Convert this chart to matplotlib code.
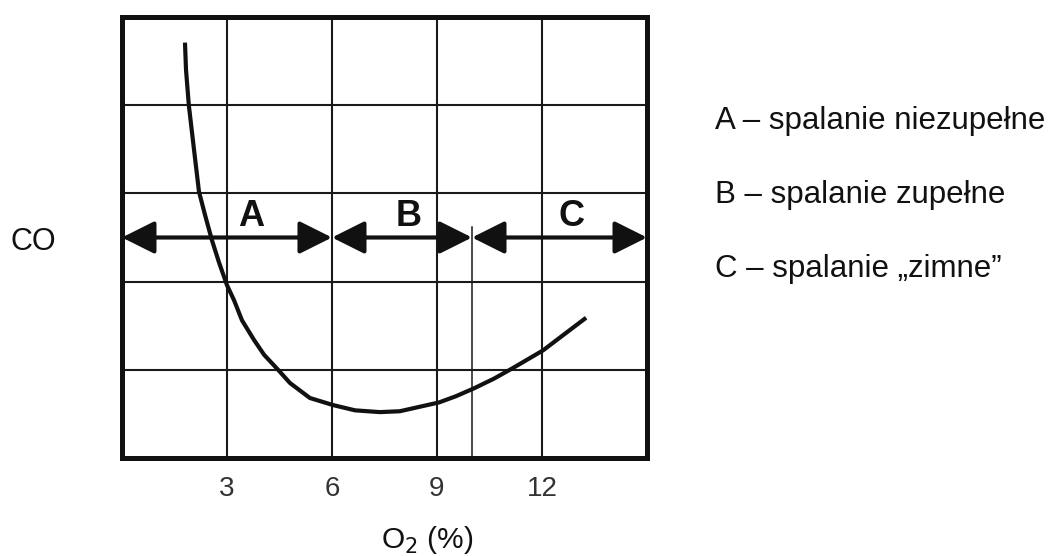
import matplotlib
matplotlib.use('Agg')
import matplotlib.pyplot as plt
from matplotlib.patches import ArrowStyle

plt.rcParams['font.family'] = ['Liberation Sans', 'DejaVu Sans']

# CO curve (x = O2 %, y = grid units, 0..5)
o2_curve = [1.80, 1.83, 1.91, 2.06, 2.20, 2.37, 2.57, 2.77, 3.00, 3.20, 3.43,
            3.77, 4.06, 4.46, 4.80, 5.37, 6.03, 6.66, 7.37, 7.94, 8.50, 9.06,
            9.54, 10.06, 10.63, 11.17, 11.60, 12.03, 12.66, 13.26]
co_curve = [4.71, 4.40, 4.00, 3.49, 3.02, 2.76, 2.47, 2.22, 1.96, 1.79, 1.56,
            1.34, 1.17, 1.00, 0.85, 0.68, 0.60, 0.54, 0.52, 0.53, 0.58, 0.63,
            0.70, 0.79, 0.90, 1.02, 1.12, 1.22, 1.41, 1.59]

x_ticks = [3, 6, 9, 12]
zone_edges = [0, 6, 10, 15]
zone_names = ['A', 'B', 'C']
zone_name_x = [3.7, 8.2, 12.85]
zone_y = 2.5
legend_lines = ['A \u2013 spalanie niezupełne',
                'B \u2013 spalanie zupełne',
                'C \u2013 spalanie \u201ezimne\u201d']

fig = plt.figure(figsize=(10.56, 5.56), dpi=100)
ax = fig.add_axes([0.1155, 0.1763, 0.4972, 0.7931])
ax.set_xlim(0, 15)
ax.set_ylim(0, 5)

# grid
for gx in [3, 6, 9, 12]:
    ax.axvline(gx, color='#1a1a1a', lw=1.5, zorder=1)
for gy in [1, 2, 3, 4]:
    ax.axhline(gy, color='#1a1a1a', lw=1.5, zorder=1)
# thin boundary between B and C
ax.plot([zone_edges[2], zone_edges[2]], [0, 2.62], color='#1a1a1a', lw=1.1, zorder=1)

for s in ax.spines.values():
    s.set_linewidth(3.6)
    s.set_color('#111111')

ax.plot(o2_curve, co_curve, color='#111111', lw=3.0, solid_capstyle='butt',
        solid_joinstyle='round', zorder=3)

style = ArrowStyle('<|-|>', head_length=1.0, head_width=0.5)
for i in range(3):
    ax.annotate('', xy=(zone_edges[i + 1], zone_y), xytext=(zone_edges[i], zone_y),
                arrowprops=dict(arrowstyle=style, color='#111111', lw=3.0,
                                shrinkA=0, shrinkB=0, mutation_scale=20), zorder=4)
    ax.text(zone_name_x[i], 2.74, zone_names[i], fontsize=26, fontweight='bold',
            ha='center', va='center', color='#111111', zorder=4)

ax.set_xticks(x_ticks)
ax.set_xticklabels([str(t) for t in x_ticks])
ax.set_yticks([])
ax.tick_params(axis='x', length=0, pad=13, labelsize=20, labelcolor='#333333')

fig.text(427 / 1056, 1 - 540 / 556, 'O$_2$ (%)', fontsize=21.5, ha='center', va='center',
         color='#111111')
fig.text(33 / 1056, 1 - 242 / 556, 'CO', fontsize=22, ha='center', va='center',
         color='#111111')

for i, line in enumerate(legend_lines):
    fig.text(715 / 1056, 1 - (121 + 74 * i) / 556, line, fontsize=22.5, ha='left',
             va='center', color='#111111')

fig.savefig('out.png', dpi=100)
